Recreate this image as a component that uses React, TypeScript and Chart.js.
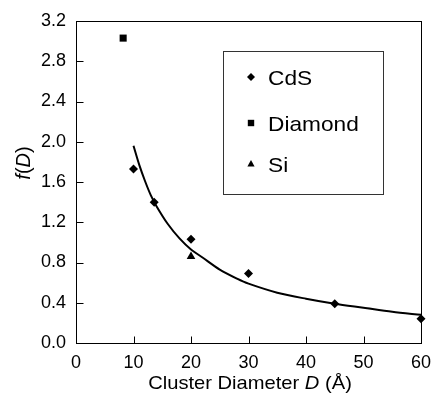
import React, { useEffect, useRef } from 'react';
import { Chart, registerables } from 'chart.js';

Chart.register(...registerables);

// ---- data ----
const cdsD = [10, 13.6, 20, 30, 45, 60];
const cdsF = [1.73, 1.40, 1.03, 0.69, 0.39, 0.24];
const diamondD = [8.2];
const diamondF = [3.03];
const siD = [20];
const siF = [0.86];
const fitD = [10, 11, 12, 13, 14, 16, 18, 20, 22, 25, 28, 30, 35, 40, 45, 50, 55, 60];
const fitF = [1.96, 1.77, 1.61, 1.47, 1.36, 1.18, 1.04, 0.93, 0.85, 0.73, 0.64, 0.59, 0.50, 0.44, 0.39, 0.35, 0.31, 0.28];
const xTicks = [0, 10, 20, 30, 40, 50, 60];
const yTicks = [0, 0.4, 0.8, 1.2, 1.6, 2.0, 2.4, 2.8, 3.2];
const legendLabels = ['CdS', 'Diamond', 'Si'];
const legendStyles = ['rectRot', 'rect', 'triangle'];

const FONT = '"Liberation Sans", Arial, Helvetica, sans-serif';

type Run = { t: string; i?: boolean };

function drawRuns(ctx: CanvasRenderingContext2D, runs: Run[], size: number, sx: number) {
  let total = 0;
  const widths = runs.map((r) => {
    ctx.font = `${r.i ? 'italic ' : ''}${size}px ${FONT}`;
    const w = ctx.measureText(r.t).width;
    total += w;
    return w;
  });
  ctx.save();
  ctx.scale(sx, 1);
  let x = -total / 2;
  runs.forEach((r, k) => {
    ctx.font = `${r.i ? 'italic ' : ''}${size}px ${FONT}`;
    ctx.fillText(r.t, x, 0);
    x += widths[k];
  });
  ctx.restore();
}

function drawMarker(ctx: CanvasRenderingContext2D, style: string, x: number, y: number, r: number) {
  ctx.beginPath();
  if (style === 'rectRot') {
    ctx.moveTo(x, y - r);
    ctx.lineTo(x + r, y);
    ctx.lineTo(x, y + r);
    ctx.lineTo(x - r, y);
  } else if (style === 'rect') {
    const s = r * 0.8;
    ctx.rect(x - s, y - s, 2 * s, 2 * s);
  } else {
    ctx.moveTo(x, y - r);
    ctx.lineTo(x + r * 0.9, y + r * 0.6);
    ctx.lineTo(x - r * 0.9, y + r * 0.6);
  }
  ctx.closePath();
  ctx.fill();
}

const decorPlugin = {
  id: 'decor',
  beforeDatasetsDraw(chart: any) {
    const { ctx, chartArea: a, scales } = chart;
    const x = scales.x;
    const y = scales.y;
    ctx.save();
    ctx.strokeStyle = '#000';
    ctx.lineWidth = 1;
    const L = Math.round(a.left) + 0.5;
    const R = Math.round(a.right) + 0.5;
    const T = Math.round(a.top) + 0.5;
    const B = Math.round(a.bottom) + 0.5;
    ctx.strokeRect(L, T, R - L, B - T);
    ctx.beginPath();
    xTicks.forEach((v) => {
      const px = Math.round(x.getPixelForValue(v)) + 0.5;
      ctx.moveTo(px, B);
      ctx.lineTo(px, B - 7);
    });
    yTicks.forEach((v) => {
      const py = Math.round(y.getPixelForValue(v)) + 0.5;
      ctx.moveTo(L, py);
      ctx.lineTo(L + 7, py);
    });
    ctx.stroke();
    ctx.restore();
  },
  afterDraw(chart: any) {
    const { ctx } = chart;
    ctx.save();
    ctx.fillStyle = '#000';
    ctx.textBaseline = 'alphabetic';
    ctx.textAlign = 'left';
    ctx.save();
    ctx.translate(250, 389);
    drawRuns(ctx, [{ t: 'Cluster Diameter ' }, { t: 'D', i: true }, { t: ' (Å)' }], 19, 1.06);
    ctx.restore();
    ctx.save();
    ctx.translate(30, 163);
    ctx.rotate(-Math.PI / 2);
    drawRuns(ctx, [{ t: 'f', i: true }, { t: '(' }, { t: 'D', i: true }, { t: ')' }], 20, 1);
    ctx.restore();
    ctx.strokeStyle = '#333';
    ctx.lineWidth = 1;
    ctx.strokeRect(223.5, 51.5, 160, 143);
    const rows = [77, 123, 164];
    legendLabels.forEach((lab, k) => {
      drawMarker(ctx, legendStyles[k], 251, rows[k], 4);
      ctx.save();
      ctx.translate(268, rows[k] + 8);
      ctx.scale(1.08, 1);
      ctx.font = `21px ${FONT}`;
      ctx.fillText(lab, 0, 0);
      ctx.restore();
    });
    ctx.restore();
  },
};

export default function App() {
  const ref = useRef<HTMLCanvasElement | null>(null);
  useEffect(() => {
    if (!ref.current) return;
    const pts = (xs: number[], ys: number[]) => xs.map((v, i) => ({ x: v, y: ys[i] }));
    const chart = new Chart(ref.current, {
      type: 'scatter',
      data: {
        datasets: [
          {
            label: 'fit',
            data: pts(fitD, fitF),
            showLine: true,
            borderColor: '#000',
            borderWidth: 2,
            pointRadius: 0,
            tension: 0.3,
            clip: false,
          } as any,
          {
            label: legendLabels[0],
            data: pts(cdsD, cdsF),
            pointStyle: 'rectRot',
            pointRadius: 4.5,
            backgroundColor: '#000',
            borderColor: '#000',
            borderWidth: 0,
            clip: false,
          } as any,
          {
            label: legendLabels[1],
            data: pts(diamondD, diamondF),
            pointStyle: 'rect',
            pointRadius: 5,
            backgroundColor: '#000',
            borderColor: '#000',
            borderWidth: 0,
            clip: false,
          } as any,
          {
            label: legendLabels[2],
            data: pts(siD, siF),
            pointStyle: 'triangle',
            pointRadius: 5,
            backgroundColor: '#000',
            borderColor: '#000',
            borderWidth: 0,
            clip: false,
          } as any,
        ],
      },
      options: {
        animation: false,
        responsive: false,
        devicePixelRatio: 1,
        events: [],
        layout: { padding: { top: 21, right: 10, left: 0, bottom: 0 } },
        plugins: { legend: { display: false }, tooltip: { enabled: false }, title: { display: false } },
        scales: {
          x: {
            type: 'linear',
            min: 0,
            max: 60,
            afterBuildTicks: (s: any) => {
              s.ticks = xTicks.map((v) => ({ value: v }));
            },
            afterFit: (s: any) => {
              s.height = 50;
              s.paddingLeft = 0;
              s.paddingRight = 0;
            },
            grid: { display: false, drawTicks: false },
            border: { display: false },
            ticks: {
              color: '#000',
              font: { family: FONT, size: 18 },
              padding: 9,
              maxRotation: 0,
              autoSkip: false,
              callback: (v: any) => String(v),
            },
          },
          y: {
            type: 'linear',
            min: 0,
            max: 3.2,
            afterBuildTicks: (s: any) => {
              s.ticks = yTicks.map((v) => ({ value: v }));
            },
            afterFit: (s: any) => {
              s.width = 76;
              s.paddingTop = 0;
              s.paddingBottom = 0;
            },
            grid: { display: false, drawTicks: false },
            border: { display: false },
            ticks: {
              color: '#000',
              font: { family: FONT, size: 18 },
              padding: 10,
              autoSkip: false,
              callback: (v: any) => Number(v).toFixed(1),
            },
          },
        },
      } as any,
      plugins: [decorPlugin],
    });
    return () => chart.destroy();
  }, []);
  return (
    <div style={{ position: 'absolute', left: 0, top: 0, width: 431, height: 393, background: '#fff' }}>
      <canvas ref={ref} width={431} height={393} style={{ display: 'block' }} />
    </div>
  );
}
